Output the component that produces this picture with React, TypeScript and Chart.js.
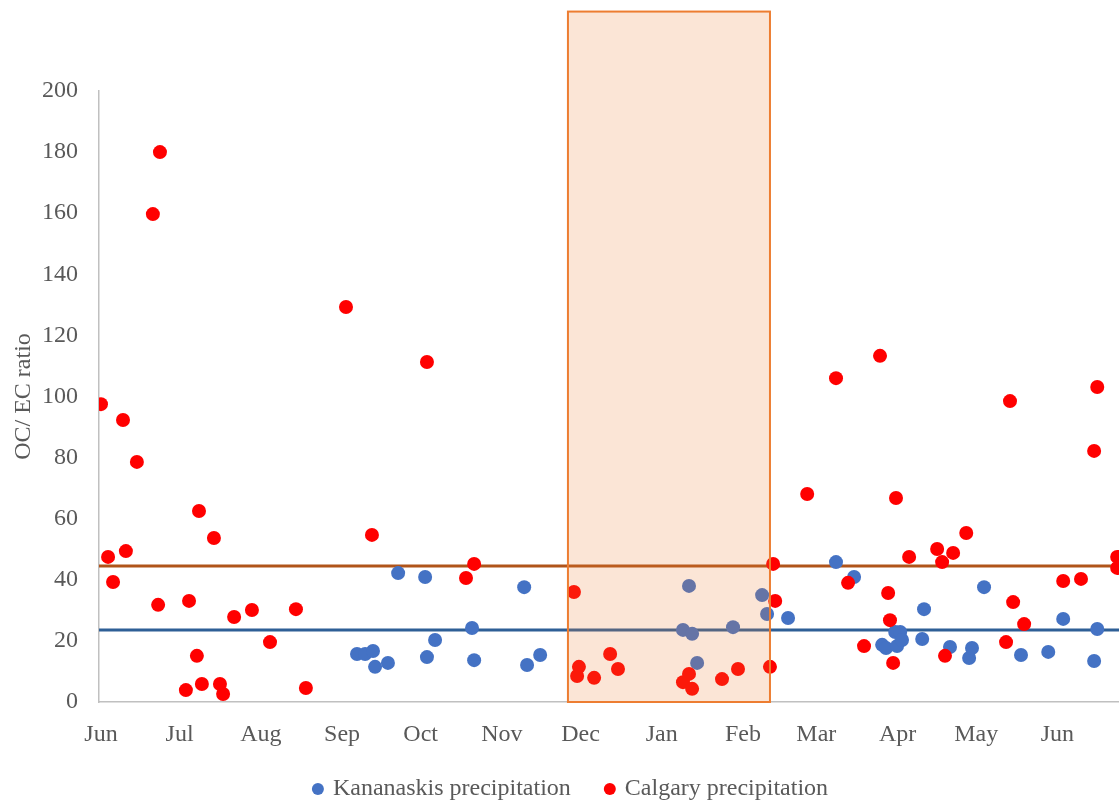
import React, { useEffect, useRef } from 'react';
import { Chart, registerables } from 'chart.js';

Chart.register(...registerables);

// Month ticks (days since 1 June)
const monthTickDays = [0, 30, 61, 92, 122, 153, 183, 214, 245, 273, 304, 334, 365];
const monthLabels = ['Jun', 'Jul', 'Aug', 'Sep', 'Oct', 'Nov', 'Dec', 'Jan', 'Feb', 'Mar', 'Apr', 'May', 'Jun'];

// Kananaskis precipitation (day since 1 June, OC/EC ratio)
const kananaskisDays = [
  97.7, 100.8, 103.8, 104.6, 109.5, 113.4, 123.7, 124.4, 127.5, 141.6, 142.4, 161.5, 162.6, 167.6,
  222.1, 224.4, 225.6, 227.5, 241.2, 252.3, 254.2, 262.2, 280.5, 287.4,
  298.1, 299.6, 303.1, 305.0, 303.8, 305.7, 313.4, 314.1, 324.0, 331.3, 332.4, 337.0,
  351.1, 361.5, 367.2, 379.0, 380.2,
];
const kananaskisValues = [
  15.7, 15.7, 16.7, 11.5, 12.8, 42.2, 40.9, 14.7, 20.3, 24.2, 13.7, 37.6, 12.1, 15.4,
  23.6, 38.0, 22.3, 12.8, 24.5, 35.0, 28.8, 27.5, 45.8, 40.9,
  18.7, 17.7, 22.9, 22.9, 18.3, 20.3, 20.6, 30.4, 18.0, 14.4, 17.7, 37.6,
  15.4, 16.4, 27.2, 13.4, 23.9,
];

// Calgary precipitation
const calgaryDays = [
  0, 2.7, 4.6, 8.4, 9.5, 13.7, 19.8, 21.8, 22.5, 32.4, 33.6, 36.6, 37.4, 38.5, 43.1, 45.4, 46.6,
  50.8, 57.6, 64.5, 74.4, 78.2, 93.5, 103.4, 124.4, 139.3, 142.4,
  180.5, 182.4, 181.7, 188.2, 194.3, 197.3, 222.1, 224.4, 225.6, 237.0, 243.1, 255.3, 256.5, 257.3,
  269.5, 280.5, 285.1, 291.2, 297.3, 300.4, 301.1, 302.3, 303.4, 308.4, 319.1, 321.0, 322.1, 325.2,
  330.2, 345.4, 346.9, 348.1, 352.3, 367.2, 374.0, 379.0, 380.2, 387.8, 387.8,
];
const calgaryValues = [
  97.5, 47.5, 39.3, 92.3, 49.4, 78.6, 159.7, 31.8, 180.0, 3.9, 33.1, 15.1, 62.5, 5.9, 53.7, 5.9, 2.6,
  27.8, 30.1, 19.6, 30.4, 4.6, 129.3, 54.7, 111.3, 40.6, 45.2,
  36.0, 11.5, 8.5, 7.9, 15.7, 10.8, 6.5, 9.2, 4.3, 7.5, 10.8, 11.5, 45.2, 33.1,
  68.1, 106.0, 39.0, 18.3, 113.3, 35.7, 26.8, 12.8, 66.8, 47.5, 50.1, 45.8, 15.1, 48.8,
  55.3, 19.6, 98.5, 32.7, 25.5, 39.6, 40.3, 82.2, 103.1, 47.5, 43.9,
];

// Reference lines
const calgaryMean = 44.5;
const kananaskisMean = 23.6;

// Shaded winter period
const winterStartDay = 178.2;
const winterEndDay = 255.3;
const winterTopValue = 226;

// Axis ranges
const xMin = -0.76;
const xMax = 388.5;
const yMin = 0;
const yMax = 200;
const yStep = 20;

const FONT = "'Liberation Serif', 'Times New Roman', serif";
const TEXT = '#595959';

const shadePlugin = {
  id: 'winterShade',
  afterLayout(chart: any) {
    // let x tick labels (with descenders) extend past the axis box without clipping
    const xs = chart.scales.x;
    if (xs) xs.bottom = chart.height;
  },
  afterDatasetsDraw(chart: any) {
    const { ctx, scales } = chart;
    const x = scales.x;
    const y = scales.y;
    const x0 = x.getPixelForValue(winterStartDay);
    const x1 = x.getPixelForValue(winterEndDay);
    const y0 = y.getPixelForValue(winterTopValue);
    const y1 = y.getPixelForValue(0);
    ctx.save();
    ctx.fillStyle = 'rgba(237,125,49,0.2)';
    ctx.fillRect(x0, y0, x1 - x0, y1 - y0);
    ctx.strokeStyle = '#ed7d31';
    ctx.lineWidth = 2;
    ctx.strokeRect(x0, y0, x1 - x0, y1 - y0);
    ctx.restore();
  },
};

export default function App() {
  const ref = useRef<HTMLCanvasElement | null>(null);

  useEffect(() => {
    if (!ref.current) return;
    const kanPoints = kananaskisDays.map((d, i) => ({ x: d, y: kananaskisValues[i] }));
    const calPoints = calgaryDays.map((d, i) => ({ x: d, y: calgaryValues[i] }));

    const chart = new Chart(ref.current, {
      type: 'scatter',
      data: {
        datasets: [
          {
            label: 'Kananaskis precipitation',
            data: kanPoints,
            backgroundColor: '#4472c4',
            borderColor: '#4472c4',
            pointRadius: 7,
            pointHoverRadius: 7,
            borderWidth: 0,
            order: 1,
          },
          {
            label: 'Calgary precipitation',
            data: calPoints,
            backgroundColor: '#ff0000',
            borderColor: '#ff0000',
            pointRadius: 7,
            pointHoverRadius: 7,
            borderWidth: 0,
            order: 0,
          },
          {
            label: 'Calgary mean',
            data: [{ x: xMin, y: calgaryMean }, { x: xMax, y: calgaryMean }],
            showLine: true,
            borderColor: '#b0541a',
            backgroundColor: '#b0541a',
            borderWidth: 3,
            pointRadius: 0,
            order: 2,
          },
          {
            label: 'Kananaskis mean',
            data: [{ x: xMin, y: kananaskisMean }, { x: xMax, y: kananaskisMean }],
            showLine: true,
            borderColor: '#2e5f96',
            backgroundColor: '#2e5f96',
            borderWidth: 3,
            pointRadius: 0,
            order: 2,
          },
        ],
      } as any,
      options: {
        responsive: false,
        animation: false,
        layout: { autoPadding: false, padding: { left: 24, top: 91, right: 0, bottom: 0 } },
        plugins: {
          tooltip: { enabled: false },
          legend: {
            position: 'bottom',
            maxHeight: 60,
            labels: {
              filter: (item: any) => item.datasetIndex < 2,
              sort: (a: any, b: any) => a.datasetIndex - b.datasetIndex,
              usePointStyle: true,
              pointStyle: 'circle',
              boxWidth: 6,
              boxHeight: 8.5,
              padding: 36,
              color: TEXT,
              font: { family: FONT, size: 24 },
            },
          },
        },
        scales: {
          x: {
            type: 'linear',
            min: xMin,
            max: xMax,
            grid: { display: false, drawTicks: false },
            border: { display: true, color: '#c0c0c0', width: 1.5 },
            afterBuildTicks: (s: any) => {
              s.ticks = monthTickDays.map((v) => ({ value: v }));
            },
            afterFit: (s: any) => {
              s.height = 39;
            },
            ticks: {
              autoSkip: false,
              maxRotation: 0,
              minRotation: 0,
              padding: 18,
              color: TEXT,
              font: { family: FONT, size: 24 },
              callback: (_v: any, i: number) => monthLabels[i],
            },
          },
          y: {
            min: yMin,
            max: yMax,
            grid: { display: false, drawTicks: false },
            border: { display: true, color: '#c0c0c0', width: 1.5 },
            afterFit: (s: any) => {
              s.width = 75;
            },
            ticks: {
              stepSize: yStep,
              padding: 21,
              color: TEXT,
              font: { family: FONT, size: 24 },
            },
            title: {
              display: true,
              text: 'OC/ EC ratio',
              color: TEXT,
              font: { family: FONT, size: 24 },
              padding: { top: -14.4, bottom: 0 },
            },
          },
        },
      } as any,
      plugins: [shadePlugin],
    });
    return () => chart.destroy();
  }, []);

  return (
    <div style={{ position: 'absolute', left: 0, top: 0, width: 1119, height: 801, background: '#fff' }}>
      <canvas ref={ref} width={1119} height={801} style={{ display: 'block', width: 1119, height: 801 }} />
    </div>
  );
}
